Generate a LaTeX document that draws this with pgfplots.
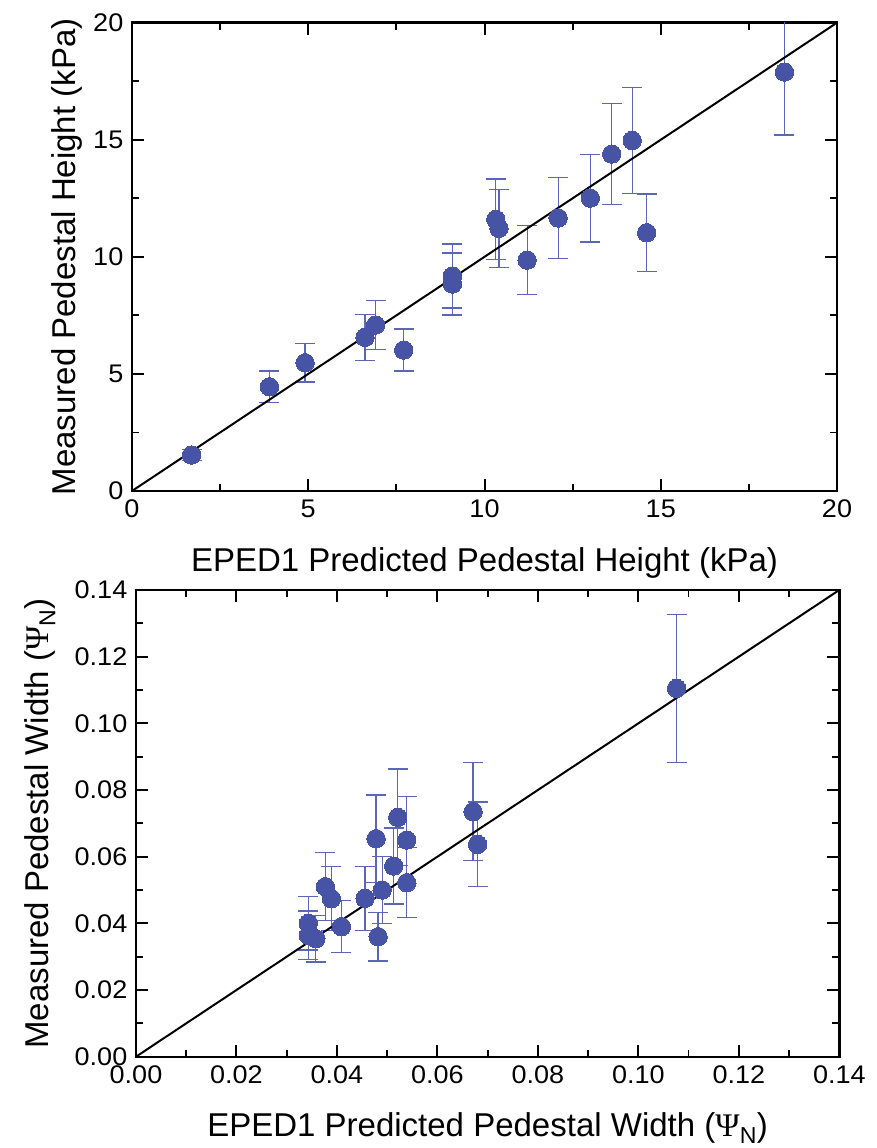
\documentclass[border=0pt]{standalone}
\usepackage{fontspec}
\setmainfont{Liberation Sans}
\newfontfamily\tickfont{Liberation Sans}[FakeStretch=1.06]
\newfontfamily\psifont{Liberation Serif}
\usepackage{pgfplots}
\pgfplotsset{compat=1.18}
\definecolor{mk}{RGB}{71,83,165}
\definecolor{eb}{RGB}{92,102,182}
\pgfplotstableread{
x y e
1.69 1.54 0.24
3.90 4.45 0.67
4.91 5.48 0.83
6.61 6.56 0.98
6.91 7.09 1.06
7.71 6.02 0.90
9.09 9.18 1.37
9.09 8.84 1.33
10.32 11.60 1.72
10.41 11.22 1.67
11.21 9.86 1.48
12.09 11.66 1.74
13.00 12.51 1.87
13.61 14.39 2.16
14.19 14.97 2.25
14.60 11.03 1.65
18.51 17.89 2.69
}\heightdata
\pgfplotstableread{
x y e
0.0343 0.0400 0.0080
0.0343 0.0364 0.0073
0.0358 0.0354 0.0070
0.0377 0.0510 0.0102
0.0389 0.0474 0.0096
0.0409 0.0390 0.0078
0.0456 0.0475 0.0096
0.0478 0.0654 0.0131
0.0482 0.0360 0.0073
0.0490 0.0500 0.0100
0.0513 0.0572 0.0114
0.0521 0.0718 0.0145
0.0539 0.0650 0.0130
0.0539 0.0522 0.0105
0.0671 0.0735 0.0147
0.0680 0.0637 0.0127
0.1076 0.1105 0.0222
}\widthdata
\begin{document}
\begin{tikzpicture}
\path[use as bounding box] (0,0) rectangle (877pt,1148pt);
\pgfplotsset{
  common/.style={
    scale only axis,
    axis line style={line width=2.4pt, line cap=rect},
    tick align=inside,
    major tick length=12pt,
    minor tick length=7pt,
    major tick style={black, line width=2pt},
    minor tick style={black, line width=1.8pt},
    minor tick num=1,
    tick label style={font=\tickfont\fontsize{25.5}{30}\selectfont},
    xticklabel style={anchor=north, inner sep=0pt, yshift=-9pt},
    yticklabel style={anchor=east, inner sep=0pt, xshift=-8.5pt},
    label style={font=\fontsize{33}{40}\selectfont},
    /pgf/number format/assume math mode=true,
    scaled ticks=false,
  },
  pts/.style={only marks, mark=*, mark size=9.2pt,
    mark options={fill=mk, draw=mk, line width=0pt},
    error bars/.cd, y dir=both, y explicit, error mark=|,
    error bar style={eb, line width=1.3pt},
    error mark options={eb, line width=1.3pt, mark size=10pt}},
}
\begin{axis}[common,
  at={(132pt,657pt)}, anchor=south west,
  width=705pt, height=468.3pt,
  xmin=0, xmax=20, ymin=0, ymax=20,
  xtick={0,5,10,15,20}, ytick={0,5,10,15,20},
  xlabel={EPED1 Predicted Pedestal Height (kPa)},
  ylabel={Measured Pedestal Height (kPa)},
  xlabel style={at={(axis description cs:0.5,-0.1723)}, anchor=base},
  ylabel style={at={(axis description cs:-0.0808,0.5)}, anchor=base},
]
\addplot[pts] table[x=x, y=y, y error=e] {\heightdata};
\addplot[black, line width=2pt, no marks] coordinates {(0,0) (20,20)};
\end{axis}
\begin{axis}[common,
  at={(136pt,91.3pt)}, anchor=south west,
  width=703.3pt, height=466.7pt,
  xmin=0, xmax=0.14, ymin=0, ymax=0.14,
  xtick={0,0.02,0.04,0.06,0.08,0.10,0.12,0.14},
  ytick={0,0.02,0.04,0.06,0.08,0.10,0.12,0.14},
  xticklabel={\pgfmathprintnumber[fixed, fixed zerofill, precision=2]{\tick}},
  yticklabel={\pgfmathprintnumber[fixed, fixed zerofill, precision=2]{\tick}},
  xlabel={EPED1 Predicted Pedestal Width ({\psifont Ψ}\textsubscript{N})},
  ylabel={Measured Pedestal Width ({\psifont Ψ}\textsubscript{N})},
  xlabel style={at={(axis description cs:0.5,-0.1710)}, anchor=base},
  ylabel style={at={(axis description cs:-0.1251,0.5)}, anchor=base},
]
\addplot[pts] table[x=x, y=y, y error=e] {\widthdata};
\addplot[black, line width=2pt, no marks] coordinates {(0,0) (0.14,0.14)};
\end{axis}
\end{tikzpicture}
\end{document}
